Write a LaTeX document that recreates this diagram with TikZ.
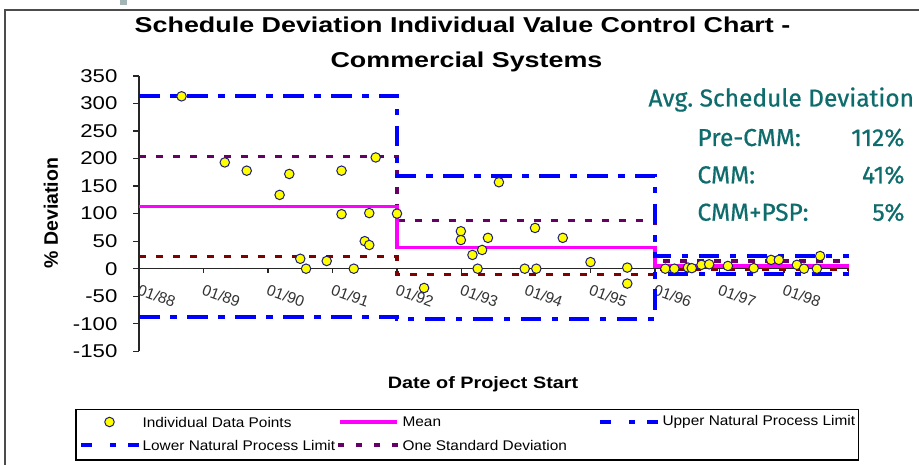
\documentclass[tikz,border=0pt]{standalone}
\usepackage{fontspec}
\setmainfont{Liberation Sans}
\newfontfamily\notefont[FakeBold=0.6]{Fira Sans}

\definecolor{nplblue}{RGB}{0,0,255}
\definecolor{sdpurple}{RGB}{102,0,102}
\definecolor{sdmaroon}{RGB}{128,0,0}
\definecolor{meanpink}{RGB}{255,0,255}
\definecolor{tealtxt}{RGB}{14,108,108}
\definecolor{ptyellow}{RGB}{255,255,0}
\definecolor{ptnavy}{RGB}{31,31,120}
\definecolor{tealgray}{RGB}{163,181,181}

\tikzset{
  frame/.style={draw=gray!60!black, line width=1.5pt},
  axisline/.style={draw=black!85, line width=1.2pt},
  npl/.style={draw=nplblue, line width=4pt, dash pattern=on 20.5pt off 10.5pt on 6.5pt off 10.5pt},
  nplkey/.style={draw=nplblue, line width=4pt, dash pattern=on 11pt off 18pt on 6pt off 12pt},
  onesd/.style={line width=3.3pt, dash pattern=on 7pt off 10pt},
  onesdkey/.style={draw=sdpurple, line width=3.3pt, dash pattern=on 6pt off 12pt},
  meanline/.style={draw=meanpink, line width=3.3pt},
  datapt/.style={circle, fill=ptyellow, draw=ptnavy, line width=1pt, inner sep=0pt, minimum size=9.5pt},
  charttitle/.style={font=\fontsize{21.5}{24}\selectfont\bfseries, xscale=1.25, inner sep=0pt, anchor=base},
  axistitle/.style={font=\fontsize{19.5}{22}\selectfont\bfseries, inner sep=0pt},
  ticklab/.style={font=\fontsize{18.5}{20}\selectfont, xscale=1.2, inner sep=0pt, anchor=east, xshift=-12pt},
  datelab/.style={font=\fontsize{15.5}{17}\selectfont, text=black!80, inner sep=0pt, anchor=north west, rotate=-20, xshift=6pt, yshift=-13pt},
  legtext/.style={font=\fontsize{14}{16}\selectfont, xscale=1.1, inner sep=0pt, anchor=west},
  note/.style={font=\notefont\fontsize{24.5}{28}\selectfont, text=tealtxt, inner sep=0pt}
}

\begin{document}
\begin{tikzpicture}[x=1pt, y=-1pt, line width=1pt]
		\useasboundingbox (0,0) rectangle (919,465);
		
		% Draw frame
		\fill[tealgray] (120,0) rectangle (127,5);
		\draw[frame] (919,10) -- (5,10) -- (5,465);
		
		% Draw titles
		\node[charttitle] (title1) at (462.5,33) {Schedule Deviation Individual Value Control Chart -};
		\node[charttitle] (title2) at (466.5,68) {Commercial Systems};
		\node[axistitle, rotate=90] (ytitle) at (51,213) {\% Deviation};
		\node[axistitle, font=\fontsize{16.5}{20}\selectfont\bfseries, xscale=1.2] (xtitle) at (483,384) {Date of Project Start};
		
		\begin{scope}[shift={(139,268.7)}, x=64.5pt, y=0.5507pt]
			% Draw axes
			\draw[axisline] (0,-150) -- (0,350);
			\foreach \v in {-150,-100,...,350}{
				\draw[axisline] (0,\v) -- ++(-6.5pt,0pt) node[ticklab] (t\v) {\v};
			}
			\draw[axisline] (0,0) -- (11,0);
			\foreach \k in {1,...,11}{
				\draw[axisline] (\k,0) -- ++(0pt,-4pt);
			}
			\foreach \k/\yr in {0/88,1/89,2/90,3/91,4/92,5/93,6/94,7/95,8/96,9/97,10/98}{
				\node[datelab] (d\yr) at (\k,0) {01/\yr};
			}
			
			% Draw limit lines
			\draw[onesd, draw=sdmaroon] (0,22) -- (4,22) -- (4,-10) -- (8,-10) -- (8,-1) -- (11,-1);
			\draw[onesd, draw=sdpurple] (0,204) -- (4,204) -- (4,87) -- (8,87) -- (8,14) -- (11,14);
			\draw[meanline] (0,113) -- (4,113) -- (4,38) -- (8,38) -- (8,5) -- (11,5);
			\draw[npl] (0,314) -- (4,314) -- (4,169) -- (8,169) -- (8,23) -- (11,23);
			\draw[npl] (0,-88) -- (4,-88) -- (4,-92) -- (8,-92) -- (8,-10) -- (11,-10);
			
			% Draw data points
			\foreach \x/\y [count=\i] in {0.66/313, 1.33/193, 1.67/178, 2.18/134, 2.33/172, 2.50/18,
				2.59/0, 2.91/14, 3.14/178, 3.14/99, 3.33/0, 3.50/50, 3.57/43, 3.57/101, 3.67/202, 4.0/100,
				4.42/-35, 4.99/68, 4.99/52, 5.17/25, 5.25/0, 5.32/34, 5.41/56, 5.58/157, 5.98/0, 6.14/74,
				6.16/0, 6.57/56, 7.0/12, 7.57/2, 7.57/-27, 8.16/0, 8.30/0, 8.51/2, 8.57/1, 8.72/7, 8.84/8,
				9.13/5, 9.53/1, 9.80/16, 9.92/16, 10.20/7, 10.31/0, 10.51/0, 10.56/23}{
				\node[datapt] (p\i) at (\x,\y) {};
			}
		\end{scope}
		
		% Draw legend
		\draw[line width=1.3pt] (76,409.3) rectangle (858.7,460);
		\node[datapt] (keypt) at (109.5,422) {};
		\node[legtext] (keyptlab) at (142,422) {Individual Data Points};
		\draw[meanline] (340,422) -- (397,422);
		\node[legtext] (keymean) at (402,422) {Mean};
		\draw[nplkey] (600,422) -- (660,422);
		\node[legtext] (keyupper) at (662,422) {Upper Natural Process Limit};
		\draw[nplkey] (81,445) -- (141,445);
		\node[legtext] (keylower) at (142,445) {Lower Natural Process Limit};
		\draw[onesdkey] (338,445) -- (400,445);
		\node[legtext] (keysd) at (402,445) {One Standard Deviation};
		
		% Draw averages
		\node[note, anchor=base west] (avghd) at (648,106.5) {Avg.\ Schedule Deviation};
		\foreach \n/\l/\v/\b in {pre/Pre-CMM:/112\%/146, cmm/CMM:/41\%/183.3, psp/CMM+PSP:/5\%/220.7}{
			\node[note, anchor=base west] (\n) at (697,\b) {\l};
			\node[note, anchor=base east] (\n val) at (905,\b) {\v};
		}
	\end{tikzpicture}
\end{document}
